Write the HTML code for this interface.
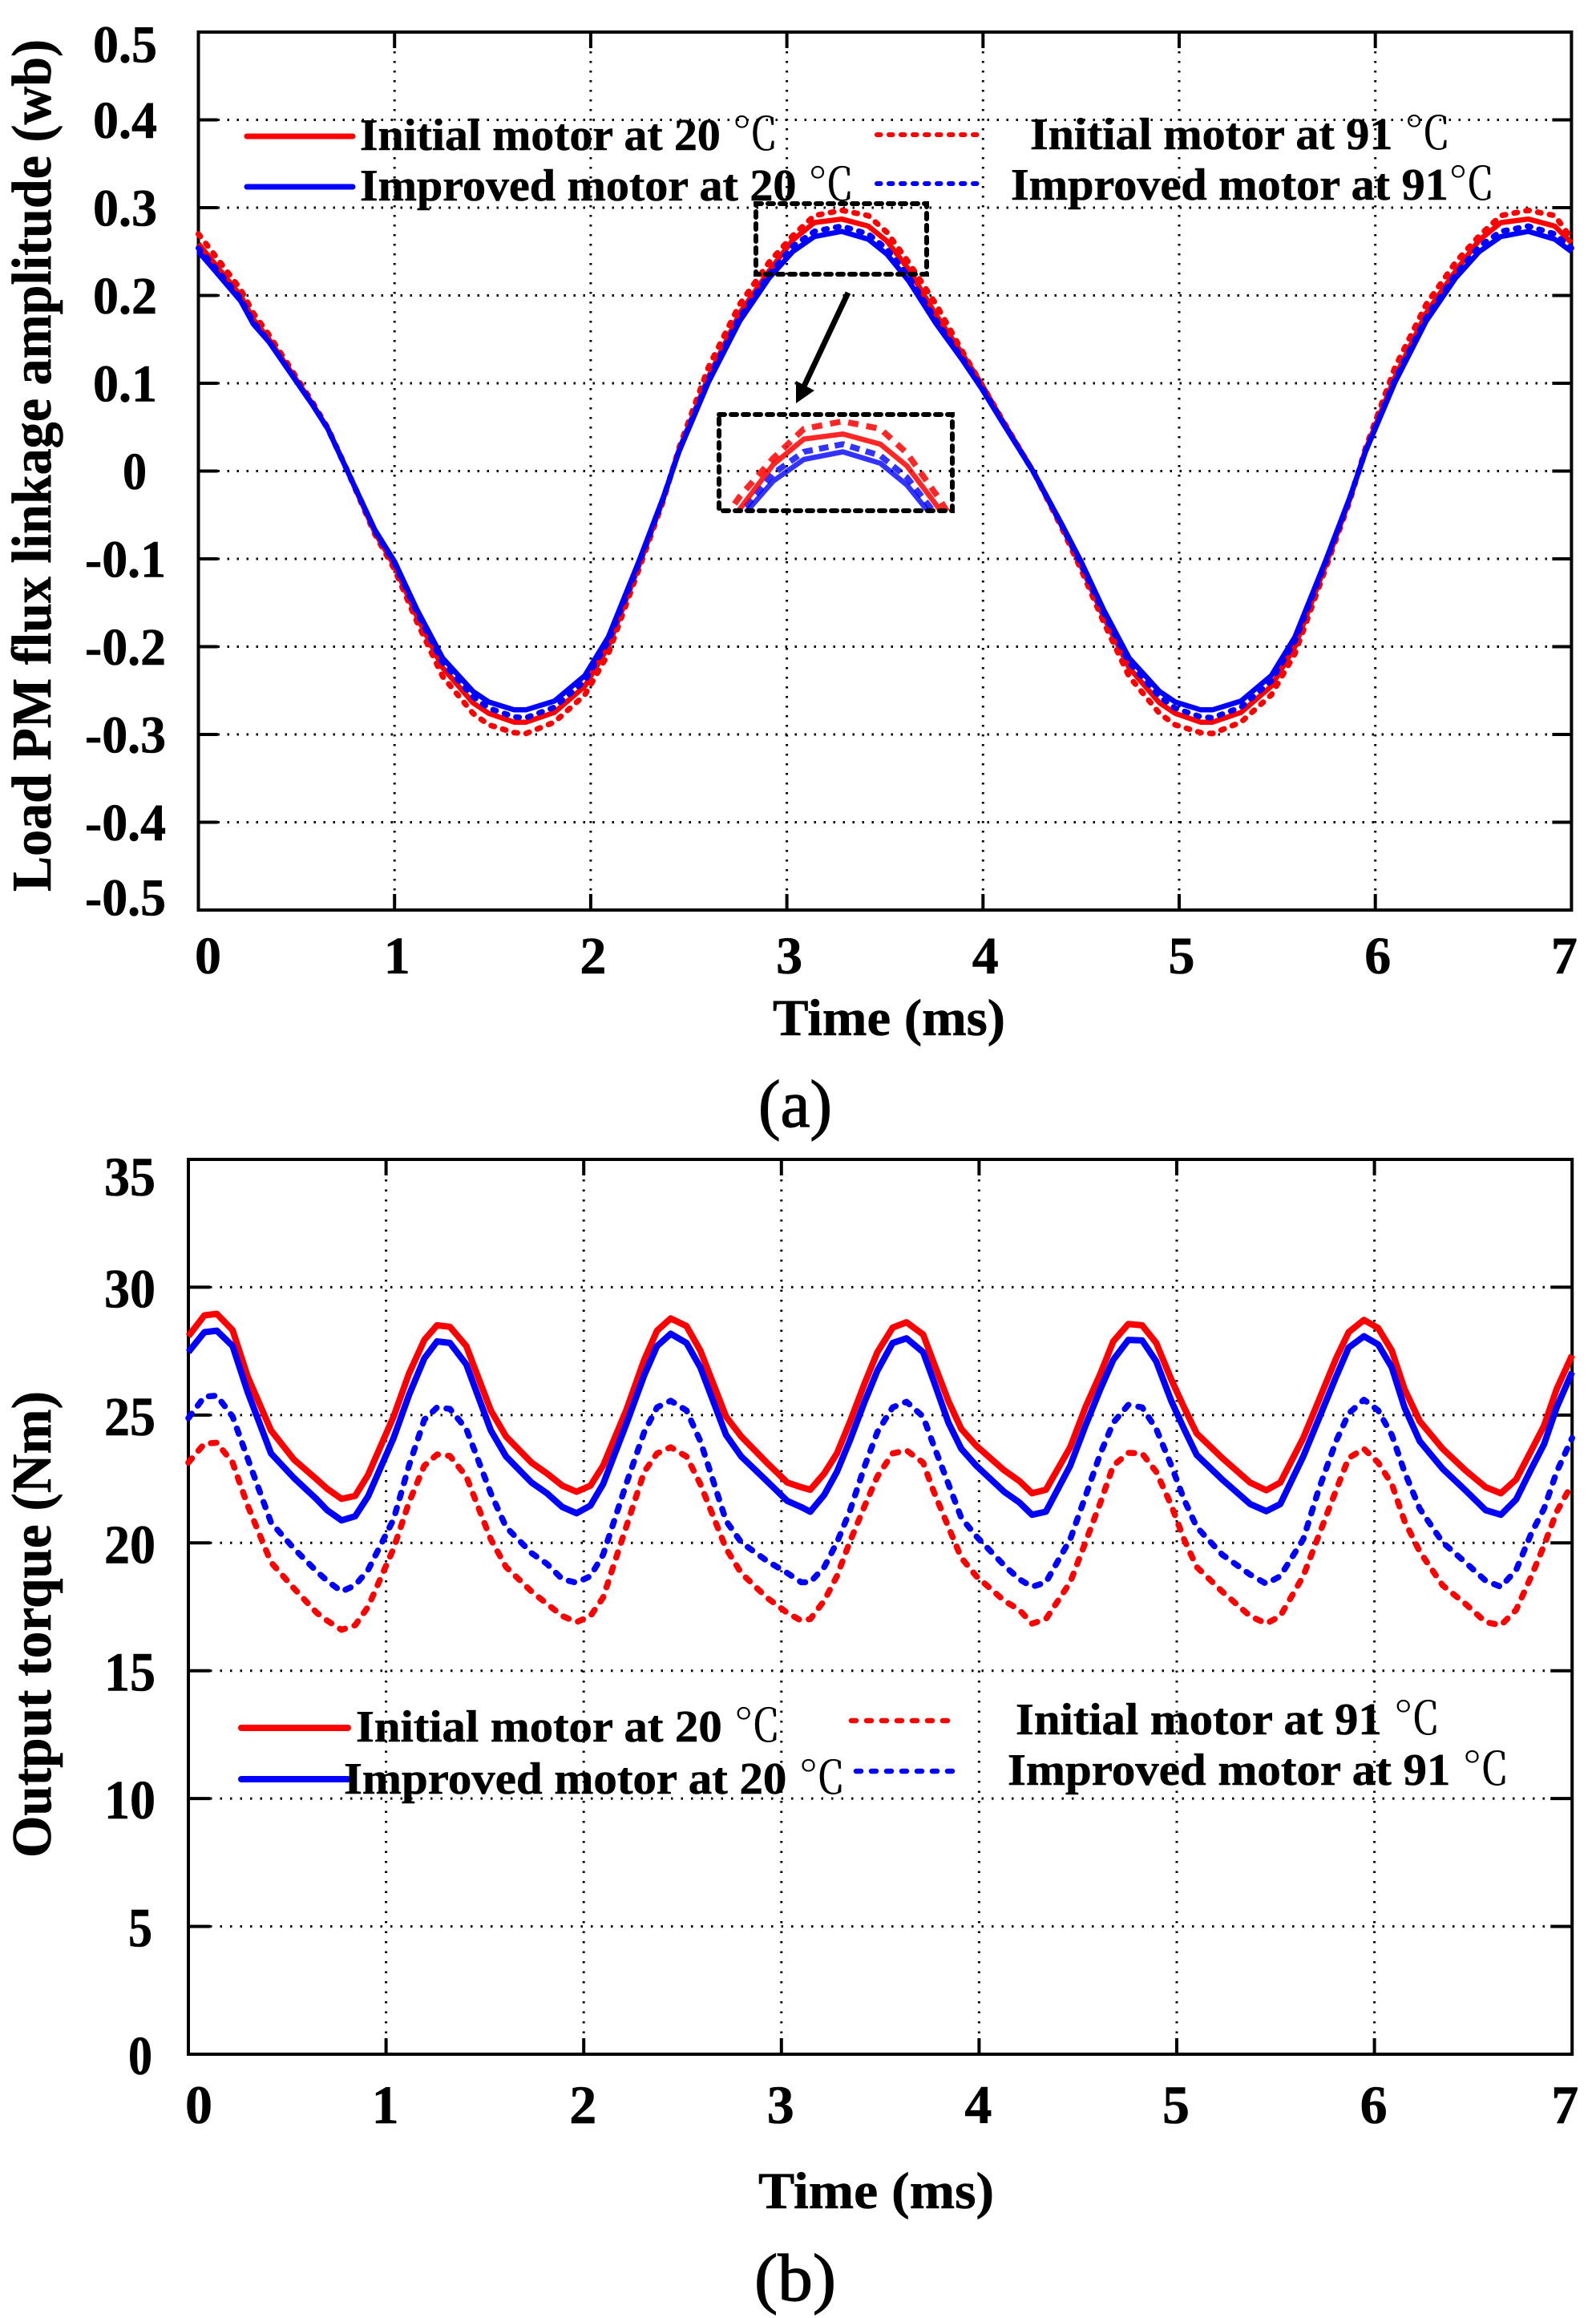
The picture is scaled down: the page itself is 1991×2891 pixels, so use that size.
<!DOCTYPE html>
<html lang="en">
<head>
<meta charset="utf-8">
<title>Load PM flux linkage and output torque</title>
<style>
html,body{margin:0;padding:0;background:#fff;}
svg{display:block;}
text{font-family:"Liberation Serif","Noto Serif CJK SC",serif;font-weight:bold;fill:#000;stroke:#000;stroke-width:.6px;}
.cel{font-weight:normal;stroke-width:.2px;}
.cap{font-weight:normal;stroke-width:1.2px;}
</style>
</head>
<body>
<svg id="figure" xmlns="http://www.w3.org/2000/svg" width="1991" height="2891" viewBox="0 0 1991 2891">
  <rect width="1991" height="2891" fill="#fff"/>
  <defs>
    <clipPath id="inset-clip"><rect x="897" y="517" width="291" height="120"/></clipPath>
  </defs>

  <g id="chart-a"></g>
  <g id="chart-b"></g>

  <text transform="translate(63 1112) rotate(-90)" font-size="70" textLength="1063" lengthAdjust="spacingAndGlyphs">Load PM flux linkage amplitude (wb)</text>
  <text x="964" y="1291" font-size="65" textLength="290" lengthAdjust="spacingAndGlyphs">Time (ms)</text>
  <text class="cap" x="946" y="1405" font-size="84" textLength="92" lengthAdjust="spacingAndGlyphs">(a)</text>

  <text transform="translate(63 2317) rotate(-90)" font-size="70" textLength="582" lengthAdjust="spacingAndGlyphs">Output torque (Nm)</text>
  <text x="946" y="2754" font-size="65" textLength="294" lengthAdjust="spacingAndGlyphs">Time (ms)</text>
  <text class="cap" x="941" y="2869" font-size="84" textLength="102" lengthAdjust="spacingAndGlyphs">(b)</text>

  <g>
    <g>
      <line x1="308" y1="170" x2="440" y2="170" stroke="#f00" stroke-width="7" stroke-linecap="round"/>
      <text x="449" y="187" font-size="56" textLength="522" lengthAdjust="spacingAndGlyphs">Initial motor at 20 <tspan class="cel">℃</tspan></text>
    </g>
    <g>
      <line x1="308" y1="233" x2="440" y2="233" stroke="#00f" stroke-width="7" stroke-linecap="round"/>
      <text x="449" y="250" font-size="56" textLength="617" lengthAdjust="spacingAndGlyphs">Improved motor at 20 <tspan class="cel">℃</tspan></text>
    </g>
    <g>
      <line x1="1094" y1="168" x2="1222" y2="168" stroke="#f00" stroke-width="6" stroke-linecap="round" stroke-dasharray="4.5 10.5"/>
      <text x="1285" y="186" font-size="56" textLength="525" lengthAdjust="spacingAndGlyphs">Initial motor at 91 <tspan class="cel">℃</tspan></text>
    </g>
    <g>
      <line x1="1094" y1="229" x2="1222" y2="229" stroke="#00f" stroke-width="6" stroke-linecap="round" stroke-dasharray="4.5 10.5"/>
      <text x="1261" y="249" font-size="56" textLength="604" lengthAdjust="spacingAndGlyphs">Improved motor at 91<tspan class="cel">℃</tspan></text>
    </g>
  </g>

  <g>
    <rect x="943" y="254" width="213" height="88" fill="none" stroke="#000" stroke-width="6" stroke-linecap="round" stroke-dasharray="7 8"/>
    <rect x="897" y="517" width="291" height="120" fill="none" stroke="#000" stroke-width="6" stroke-linecap="round" stroke-dasharray="7 8"/>
    <line x1="1058" y1="365" x2="1001" y2="486" stroke="#000" stroke-width="7"/>
    <polygon points="993,503 993,475 1016,487" fill="#000"/>
  </g>

  <g>
    <g>
      <line x1="301" y1="2155" x2="434" y2="2155" stroke="#f00" stroke-width="8" stroke-linecap="round"/>
      <text x="444" y="2172" font-size="56" textLength="530" lengthAdjust="spacingAndGlyphs">Initial motor at 20 <tspan class="cel">℃</tspan></text>
    </g>
    <g>
      <line x1="301" y1="2219" x2="434" y2="2219" stroke="#00f" stroke-width="8" stroke-linecap="round"/>
      <text x="429" y="2237" font-size="56" textLength="626" lengthAdjust="spacingAndGlyphs">Improved motor at 20 <tspan class="cel">℃</tspan></text>
    </g>
    <g>
      <line x1="1062" y1="2146" x2="1194" y2="2146" stroke="#f00" stroke-width="6.5" stroke-linecap="round" stroke-dasharray="6 13"/>
      <text x="1267" y="2152" font-size="56" textLength="530" lengthAdjust="spacingAndGlyphs" dy="11">Initial motor at 91 <tspan class="cel">℃</tspan></text>
    </g>
    <g>
      <line x1="1068" y1="2209" x2="1200" y2="2209" stroke="#00f" stroke-width="6.5" stroke-linecap="round" stroke-dasharray="6 13"/>
      <text x="1257" y="2226" font-size="56" textLength="626" lengthAdjust="spacingAndGlyphs">Improved motor at 91 <tspan class="cel">℃</tspan></text>
    </g>
  </g>
</svg>

<script>
// ---------- Chart (a): load PM flux linkage ----------
var fluxXTicks = [0, 1, 2, 3, 4, 5, 6, 7];
var fluxYTicks = [0.5, 0.4, 0.3, 0.2, 0.1, 0, -0.1, -0.2, -0.3, -0.4, -0.5];
var fluxYLabels = ['0.5', '0.4', '0.3', '0.2', '0.1', '0', '-0.1', '-0.2', '-0.3', '-0.4', '-0.5'];
var fluxTimes = [0,.07,.215,.28,.36,.49,.58,.66,.76,.90,
  1.0,1.115,1.245,1.4,1.48,1.61,1.67,1.815,1.97,2.09,
  2.245,2.37,2.45,2.6,2.76,2.91,3.03,3.14,3.28,3.415,3.51,
  3.62,3.76,3.89,3.99,4.1,4.26,4.4,4.5,4.615,4.745,
  4.9,4.98,5.11,5.17,5.315,5.47,5.59,5.745,5.87,5.95,
  6.1,6.26,6.41,6.53,6.64,6.78,6.915,7];
var fluxImproved20 = [.25,.232,.194,.1675,.147,.105,.076,.048,0,-.067,
  -.103,-.158,-.213,-.251,-.263,-.272,-.272,-.262,-.233,-.189,
  -.103,-.03,.022,.101,.171,.22,.25,.267,.273,.264,.247,
  .217,.168,.128,.095,.055,-.002,-.06,-.103,-.158,-.213,
  -.251,-.263,-.272,-.272,-.262,-.233,-.189,-.103,-.03,.022,
  .101,.171,.22,.25,.267,.273,.264,.25];
var fluxInitial20 = [.259,.24,.2,.173,.15,.107,.077,.048,0,-.07,
  -.108,-.166,-.224,-.264,-.276,-.286,-.286,-.275,-.245,-.2,
  -.108,-.032,.024,.107,.18,.228,.263,.283,.287,.279,.262,
  .23,.178,.135,.1,.057,-.002,-.062,-.108,-.166,-.224,
  -.264,-.276,-.286,-.286,-.275,-.245,-.2,-.108,-.032,.024,
  .107,.18,.228,.263,.283,.287,.279,.26];
var fluxImproved91 = [.254,.236,.197,.17,.148,.106,.077,.048,0,-.068,
  -.105,-.161,-.218,-.257,-.27,-.28,-.281,-.269,-.239,-.194,
  -.105,-.031,.023,.104,.175,.224,.256,.273,.279,.27,.253,
  .222,.172,.13,.097,.056,-.002,-.061,-.105,-.161,-.218,
  -.257,-.27,-.28,-.281,-.269,-.239,-.194,-.105,-.031,.023,
  .104,.175,.224,.256,.273,.279,.27,.254];
var fluxInitial91 = [.27,.25,.207,.18,.155,.11,.079,.049,0,-.072,
  -.112,-.172,-.234,-.276,-.289,-.298,-.299,-.286,-.255,-.208,
  -.112,-.034,.026,.118,.19,.238,.268,.291,.297,.291,.272,
  .238,.19,.138,.1,.058,-.002,-.064,-.112,-.172,-.234,
  -.276,-.289,-.298,-.299,-.286,-.255,-.208,-.112,-.034,.026,
  .118,.19,.238,.268,.291,.297,.291,.265];

// ---------- Chart (b): output torque ----------
var torqueXTicks = [0, 1, 2, 3, 4, 5, 6, 7];
var torqueYTicks = [35, 30, 25, 20, 15, 10, 5, 0];
var torqueTimes = [0,.081,.144,.224,.30,.418,.534,.65,.702,.775,
  .844,.909,1.038,1.116,1.194,1.258,1.323,1.406,1.53,1.607,
  1.736,1.814,1.892,1.964,2.034,2.098,2.215,2.306,2.371,2.44,
  2.52,2.59,2.72,2.797,2.926,3.03,3.10,3.146,3.217,3.281,
  3.345,3.422,3.486,3.563,3.633,3.717,3.768,3.845,3.91,3.986,
  4.127,4.204,4.268,4.338,4.461,4.538,4.614,4.679,4.755,4.825,
  4.896,4.973,5.037,5.101,5.23,5.371,5.453,5.524,5.64,5.717,
  5.806,5.87,5.947,6.019,6.088,6.152,6.229,6.345,6.46,6.563,
  6.64,6.717,6.794,6.858,6.922,7];
var torqueInitial20 = [28.08,28.9,28.96,28.32,26.5,24.4,23.26,22.48,22.12,21.72,
  21.84,22.66,24.94,26.62,27.94,28.51,28.45,27.7,25.18,24.16,
  23.14,22.72,22.24,22.0,22.24,23.02,25.18,27.16,28.3,28.78,
  28.48,27.52,24.94,24.16,23.14,22.36,22.18,22.08,22.72,23.5,
  24.7,26.26,27.46,28.42,28.63,28.15,27.1,25.54,24.46,23.8,
  22.84,22.42,21.94,22.08,23.74,25.3,26.62,27.88,28.56,28.51,
  27.82,26.38,25.3,24.28,23.32,22.36,22.06,22.36,24.1,25.54,
  27.22,28.24,28.72,28.4,27.52,26.02,24.76,23.68,22.84,22.18,
  21.94,22.48,23.62,24.58,26.02,27.34];
var torqueImproved20 = [27.46,28.24,28.3,27.7,25.9,23.5,22.54,21.7,21.28,20.88,
  21.04,21.82,24.1,25.78,27.22,27.88,27.82,26.98,24.4,23.38,
  22.36,21.94,21.4,21.16,21.46,22.3,24.64,26.56,27.7,28.18,
  27.82,26.86,24.22,23.38,22.42,21.64,21.4,21.22,21.88,22.78,
  23.98,25.54,26.74,27.82,28.0,27.46,26.38,24.7,23.68,23.02,
  22.0,21.58,21.1,21.22,23.02,24.58,26.02,27.16,27.94,27.92,
  27.1,25.54,24.46,23.44,22.48,21.52,21.24,21.52,23.38,24.82,
  26.5,27.64,28.08,27.76,26.86,25.3,23.98,22.9,22.06,21.28,
  21.1,21.7,22.9,23.86,25.3,26.68];
var torqueImproved91 = [24.88,25.72,25.76,24.94,23.3,20.8,19.78,18.88,18.52,18.1,
  18.34,18.94,20.92,23.02,24.82,25.3,25.24,24.46,21.94,20.62,
  19.6,19.18,18.58,18.44,18.7,19.54,22.3,24.34,25.3,25.56,
  25.18,23.98,20.86,20.02,19.3,18.82,18.46,18.46,19.06,20.02,
  21.22,23.02,24.34,25.3,25.52,24.94,23.86,22.3,20.98,20.26,
  19.12,18.58,18.28,18.46,20.14,21.82,23.5,24.7,25.4,25.3,
  24.46,23.02,21.7,20.62,19.54,18.76,18.4,18.7,20.14,22.06,
  23.98,25.06,25.6,25.18,24.22,22.78,21.34,20.02,19.24,18.52,
  18.28,18.94,20.38,21.34,22.78,24.1];
var torqueInitial91 = [23.14,23.88,23.92,23.14,21.46,19.24,18.22,17.26,16.96,16.6,
  16.78,17.5,19.78,21.58,23.02,23.46,23.4,22.6,20.14,19.06,
  18.1,17.62,17.14,16.9,17.14,17.86,20.62,22.78,23.5,23.74,
  23.38,22.3,19.78,18.82,17.86,17.26,16.96,17.02,17.74,18.7,
  20.02,21.46,22.6,23.5,23.62,23.14,22.06,20.62,19.42,18.7,
  17.74,17.38,16.84,17.02,18.46,20.02,21.58,23.02,23.52,23.5,
  22.78,21.46,20.14,19.06,18.1,17.14,16.84,17.14,18.7,20.26,
  22.06,23.32,23.68,23.14,22.3,20.86,19.66,18.34,17.62,16.9,
  16.78,17.38,18.7,19.9,21.22,22.3];

var NS = 'http://www.w3.org/2000/svg';
function node(parent, tag, attrs, content) {
  var el = document.createElementNS(NS, tag);
  for (var k in attrs) el.setAttribute(k, attrs[k]);
  if (content !== undefined) el.textContent = content;
  parent.appendChild(el);
  return el;
}
function pointsOf(times, values, fx, fy) {
  return times.map(function (t, i) { return fx(t).toFixed(1) + ',' + fy(values[i]).toFixed(1); }).join(' ');
}

// Axis functions
function xA(t) { return 247.5 + t * 244.7; }
function yA(v) { return 587.5 - v * 1095; }
function xB(t) { return 235 + t * 246.6; }
function yB(v) { return 2562 - v * 31.886; }
function insetX(t) { return 1047 + (xA(t) - 1047) * 1.42; }
function insetY(v) { return 525 + (yA(v) - 262) * 1.45; }

function drawFrame(root, fx, fy, xTicks, yTicks, dims) {
  var i, el;
  var left = fx(xTicks[0]), right = fx(xTicks[xTicks.length - 1]);
  var top = fy(yTicks[0]), bottom = fy(yTicks[yTicks.length - 1]);
  for (i = 1; i < xTicks.length - 1; i++) {
    el = node(root, 'line', {x1: fx(xTicks[i]), x2: fx(xTicks[i]), y1: top, y2: bottom, stroke: '#000', 'stroke-width': 3, 'stroke-dasharray': dims.dot});
    
    
    el = node(root, 'line', {x1: fx(xTicks[i]), x2: fx(xTicks[i]), y1: top, y2: top + dims.tickV, stroke: '#000', 'stroke-width': 4});
    
    
    el = node(root, 'line', {x1: fx(xTicks[i]), x2: fx(xTicks[i]), y1: bottom, y2: bottom - dims.tickV, stroke: '#000', 'stroke-width': 4});
    
    
  }
  for (i = 1; i < yTicks.length - 1; i++) {
    el = node(root, 'line', {x1: left + dims.tickH, x2: right - dims.tickH, y1: fy(yTicks[i]), y2: fy(yTicks[i]), stroke: '#000', 'stroke-width': 3, 'stroke-dasharray': dims.dot});
    
    
    el = node(root, 'line', {x1: left, x2: left + dims.tickH, y1: fy(yTicks[i]), y2: fy(yTicks[i]), stroke: '#000', 'stroke-width': 4});
    
    
    el = node(root, 'line', {x1: right, x2: right - dims.tickH, y1: fy(yTicks[i]), y2: fy(yTicks[i]), stroke: '#000', 'stroke-width': 4});
    
    
  }
  el = node(root, 'rect', {x: left, y: top, width: right - left, height: bottom - top, fill: 'none', stroke: '#000', 'stroke-width': dims.border});
  
  
}

function drawSeries(root, times, values, fx, fy, style, name) {
  var el = node(root, 'polyline', {
    points: pointsOf(times, values, fx, fy),
    fill: 'none', stroke: style.color, 'stroke-width': style.width,
    'stroke-linejoin': 'round', 'stroke-linecap': style.cap || 'butt'
  });
  if (style.dash) el.setAttribute('stroke-dasharray', style.dash);
  if (style.opacity) el.setAttribute('opacity', style.opacity);
  
  
  return el;
}

// ----- draw chart (a) -----
var chartA = document.getElementById('chart-a');
drawFrame(chartA, xA, yA, fluxXTicks, fluxYTicks, {dot: '2.5 9.5', tickV: 20, tickH: 24, border: 4});

var fluxYTickText = chartA.appendChild(document.createElementNS(NS, 'g'));


fluxYTicks.forEach(function (v, i) {
  var label = fluxYLabels[i];
  var neg = v < 0;
  var cy = yA(v);
  if (i === 0) cy = 55;
  if (i === fluxYTicks.length - 1) cy = 1119;
  var right = v === 0 ? 183 : (neg ? 207 : 196);
  var len = v === 0 ? 30 : (neg ? 101 : 80);
  var el = node(fluxYTickText, 'text', {x: right - len, y: cy + 22.5, 'font-size': 66, textLength: len, lengthAdjust: 'spacingAndGlyphs'}, label);
  
  
});
var fluxXTickText = chartA.appendChild(document.createElementNS(NS, 'g'));


fluxXTicks.forEach(function (t, i) {
  var shift = i === 0 ? 12 : (i === fluxXTicks.length - 1 ? -9 : 3);
  var el = node(fluxXTickText, 'text', {x: xA(t) + shift, y: 1214, 'font-size': 66, 'text-anchor': 'middle'}, String(t));
  
  
});

drawSeries(chartA, fluxTimes, fluxInitial91, xA, yA, {color: '#f00', width: 7, dash: '4 11', cap: 'round'}, 'series-initial-91');
drawSeries(chartA, fluxTimes, fluxInitial20, xA, yA, {color: '#f00', width: 6.5}, 'series-initial-20');
drawSeries(chartA, fluxTimes, fluxImproved91, xA, yA, {color: '#00f', width: 7, dash: '4 11', cap: 'round'}, 'series-improved-91');
drawSeries(chartA, fluxTimes, fluxImproved20, xA, yA, {color: '#00f', width: 6.5}, 'series-improved-20');

var inset = chartA.appendChild(document.createElementNS(NS, 'g'));
inset.setAttribute('clip-path', 'url(#inset-clip)');


drawSeries(inset, fluxTimes, fluxInitial91, insetX, insetY, {color: '#f00', width: 7.5, dash: '13 10', opacity: .85}, 'inset-initial-91');
drawSeries(inset, fluxTimes, fluxImproved91, insetX, insetY, {color: '#00f', width: 7.5, dash: '12 8', opacity: .8}, 'inset-improved-91');
drawSeries(inset, fluxTimes, fluxImproved20, insetX, insetY, {color: '#00f', width: 6.5, opacity: .8}, 'inset-improved-20');
drawSeries(inset, fluxTimes, fluxInitial20, insetX, insetY, {color: '#f00', width: 6.5, opacity: .85}, 'inset-initial-20');

// ----- draw chart (b) -----
var chartB = document.getElementById('chart-b');
drawFrame(chartB, xB, yB, torqueXTicks, torqueYTicks, {dot: '2.5 10', tickV: 20, tickH: 27, border: 4});

var torqueYTickText = chartB.appendChild(document.createElementNS(NS, 'g'));


torqueYTicks.forEach(function (v, i) {
  var single = v < 10;
  var cy = yB(v) + 2;
  if (i === 0) cy = 1468;
  var len = single ? 30 : 64;
  var right = single ? 190 : 194;
  var el = node(torqueYTickText, 'text', {x: right - len, y: cy + 23, 'font-size': 69, textLength: len, lengthAdjust: 'spacingAndGlyphs'}, String(v));
  
  
});
var torqueXTickText = chartB.appendChild(document.createElementNS(NS, 'g'));


torqueXTicks.forEach(function (t, i) {
  var shift = i === 0 ? 13 : (i === torqueXTicks.length - 1 ? -9 : -1);
  var el = node(torqueXTickText, 'text', {x: xB(t) + shift, y: 2648, 'font-size': 68, 'text-anchor': 'middle'}, String(t));
  
  
});

drawSeries(chartB, torqueTimes, torqueInitial91, xB, yB, {color: '#f00', width: 7.5, dash: '7 12.5', cap: 'round'}, 'series-initial-91');
drawSeries(chartB, torqueTimes, torqueImproved91, xB, yB, {color: '#00f', width: 7.5, dash: '7 12.5', cap: 'round'}, 'series-improved-91');
drawSeries(chartB, torqueTimes, torqueInitial20, xB, yB, {color: '#f00', width: 8}, 'series-initial-20');
drawSeries(chartB, torqueTimes, torqueImproved20, xB, yB, {color: '#00f', width: 8}, 'series-improved-20');
</script>
</body>
</html>
